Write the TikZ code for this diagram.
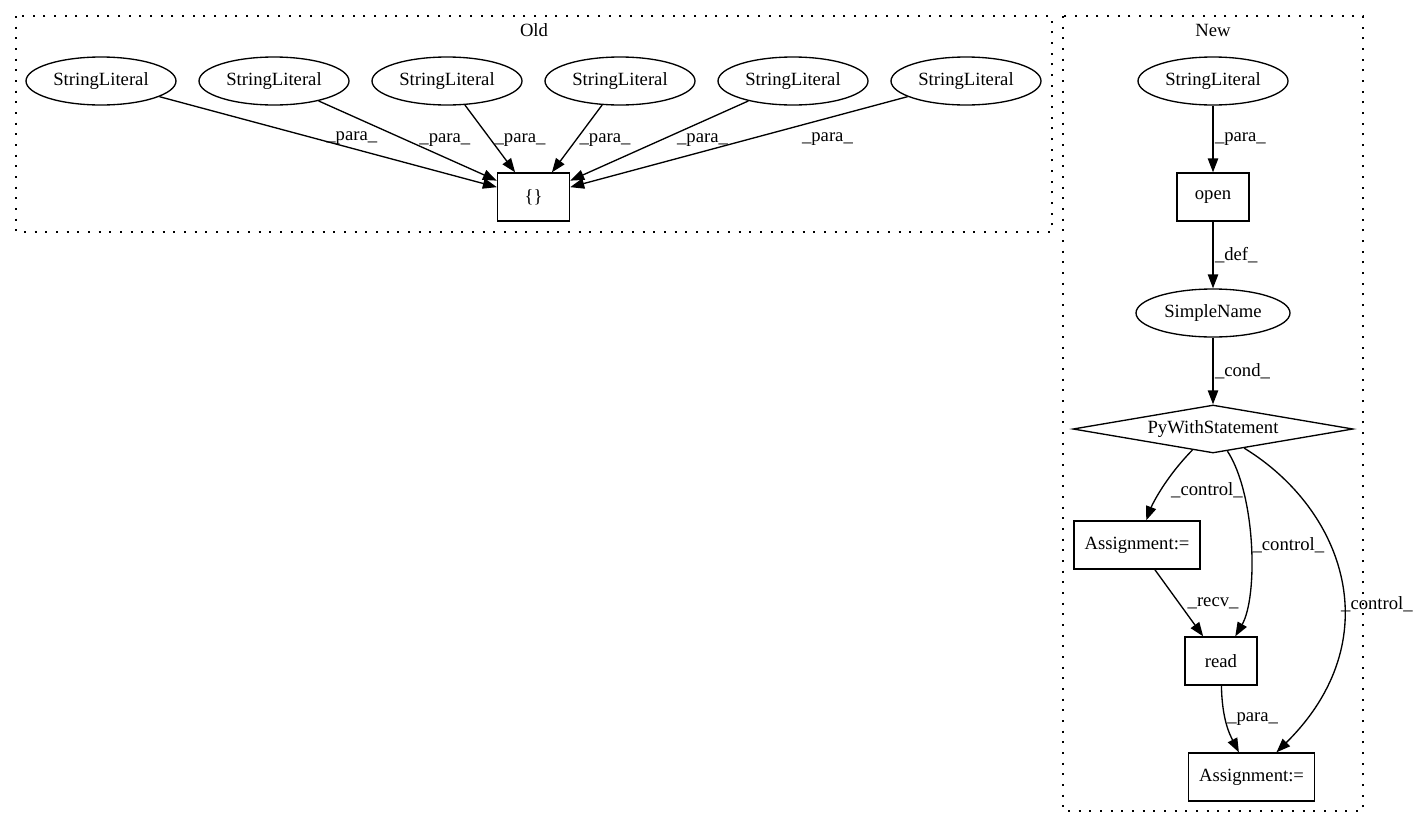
\documentclass[tikz,border=0pt]{standalone}
\usepackage{fontspec}
\setmainfont{Liberation Serif}
\usetikzlibrary{shapes.geometric, arrows.meta, positioning}
\tikzstyle{strlit} = [ellipse, minimum width=112.5pt, minimum height=36pt, inner sep=0pt, draw=black, line width=1pt]
\tikzstyle{call} = [rectangle, minimum width=54pt, minimum height=36pt, inner sep=0pt, text centered, draw=black, line width=1pt]
\tikzstyle{assign} = [rectangle, minimum width=94.5pt, minimum height=36pt, inner sep=0pt, text centered, draw=black, line width=1pt]
\tikzstyle{withstmt} = [diamond, minimum width=210pt, minimum height=36pt, inner sep=0pt, aspect=5.8, draw=black, line width=1pt]
\tikzstyle{cluster} = [line width=1.1pt, dash pattern=on 1.5pt off 6.5pt]
\tikzstyle{lbl} = [inner sep=1pt]
\tikzstyle{arrow} = [line width=1pt, -{Triangle[length=10.5pt, width=7.8pt]}]

\begin{document}
\begin{tikzpicture}[x=0.75pt, y=0.75pt, node distance=87pt, font=\fontsize{14pt}{16pt}\selectfont]
\useasboundingbox (0,0) rectangle (1413,-828);

\draw [cluster] (16,-16) rectangle (1052,-232);
\draw [cluster] (1063,-16) rectangle (1363,-811);
\node (oldtitle) at (534,-30) {Old};
\node (newtitle) at (1213,-30) {New};

\node (sl1) [strlit] at (101,-81) {StringLiteral};
\node (sl2) [strlit, right of=sl1, xshift=42.75pt] {StringLiteral};
\node (sl3) [strlit, right of=sl2, xshift=42.75pt] {StringLiteral};
\node (sl4) [strlit, right of=sl3, xshift=42.75pt] {StringLiteral};
\node (sl5) [strlit, right of=sl4, xshift=42.75pt] {StringLiteral};
\node (sl6) [strlit, right of=sl5, xshift=42.75pt] {StringLiteral};
\node (braces) [call, below of=sl3, xshift=64.9pt] {\{\}};

\node (newsl) [strlit, right of=sl6, xshift=98.25pt] {StringLiteral};
\node (open) [call, below of=newsl] {open};
\node (sname) [strlit, minimum width=115.5pt, below of=open] {SimpleName};
\node (pywith) [withstmt, below of=sname] {PyWithStatement};
\node (asg1) [assign, below of=pywith, xshift=-57pt] {Assignment:=};
\node (read) [call, below of=asg1, xshift=63pt] {read};
\node (asg2) [assign, below of=read, xshift=22.9pt] {Assignment:=};

\draw [arrow] (sl1) -- node[lbl, pos=0.57, yshift=7.7pt] {\_para\_} (braces);
\draw [arrow] (sl2) -- node[lbl, pos=0.708, yshift=13pt] {\_para\_} (braces);
\draw [arrow] (sl3) -- node[lbl, pos=0.52, xshift=21.75pt] {\_para\_} (braces);
\draw [arrow] (sl4) -- node[lbl, pos=0.52, xshift=21.75pt] {\_para\_} (braces);
\draw [arrow] (sl5) -- node[lbl, pos=0.2575, yshift=-14.1pt] {\_para\_} (braces);
\draw [arrow] (sl6) -- node[lbl, pos=0.2375, yshift=-15.9pt] {\_para\_} (braces);

\draw [arrow] (newsl) -- node[lbl, right] {\_para\_} (open);
\draw [arrow] (open) -- node[lbl, right] {\_def\_} (sname);
\draw [arrow] (sname) -- node[lbl, right] {\_cond\_} (pywith);
\draw [arrow] (pywith) .. controls (1165,-478) and (1152,-505) .. node[lbl, pos=0.5, right=6pt] {\_control\_} (asg1);
\draw [arrow] (pywith) .. controls (1256,-495) and (1258,-597) .. node[lbl, pos=0.5, right] {\_control\_} (read);
\draw [arrow] (pywith) .. controls (1345,-510) and (1390,-640) .. node[lbl, pos=0.57, right, xshift=-3pt] {\_control\_} (asg2);
\draw [arrow] (asg1) -- node[lbl, pos=0.5, right=5pt] {\_recv\_} (read);
\draw [arrow] (read) .. controls (1222,-720) and (1230,-735) .. node[lbl, pos=0.4, right] {\_para\_} (asg2);

\end{tikzpicture}
\end{document}
